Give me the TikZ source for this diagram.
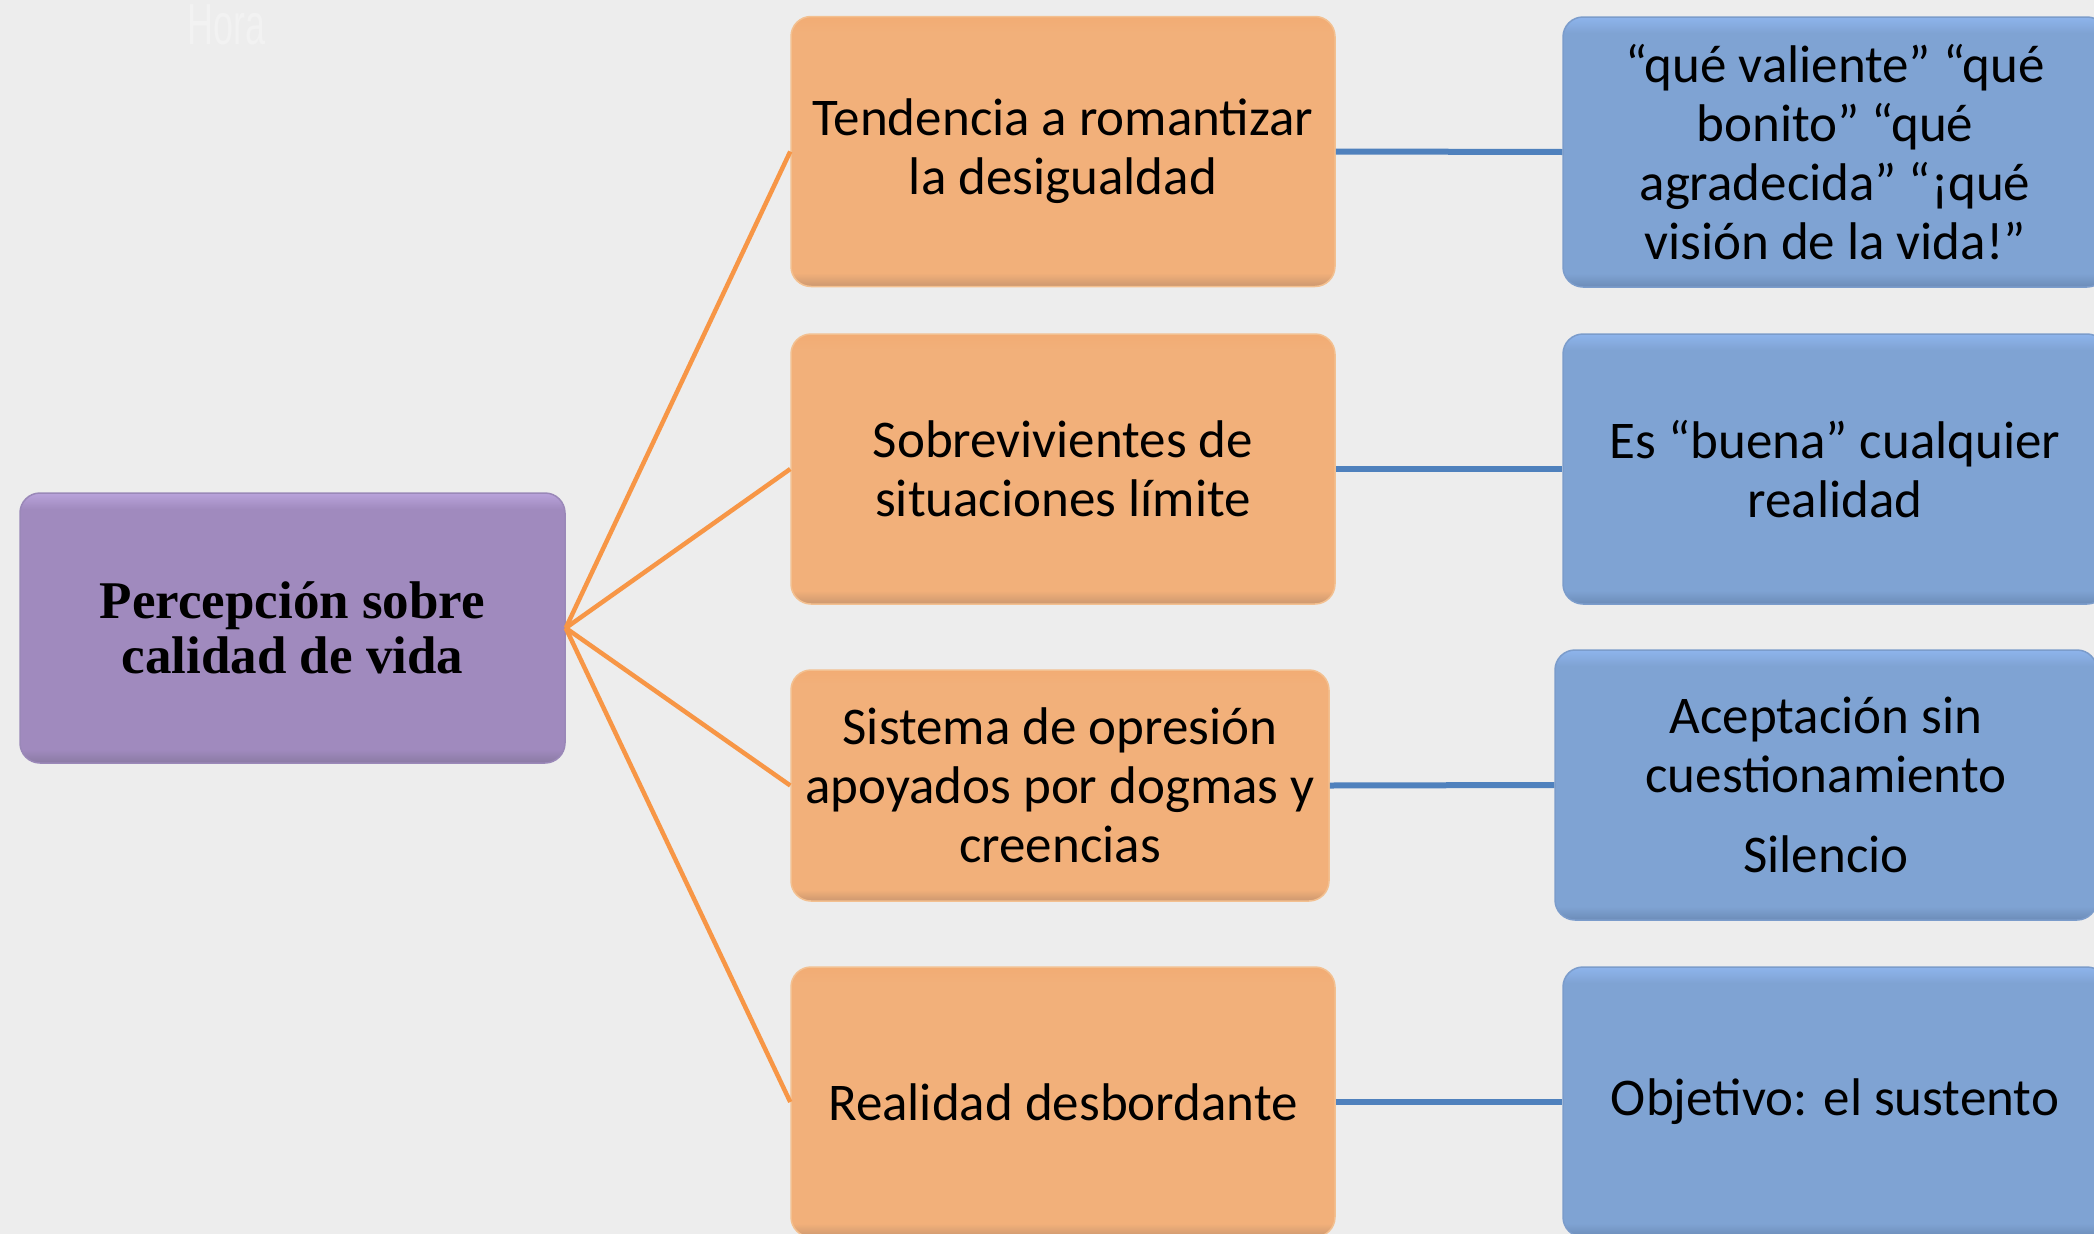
\documentclass[tikz,border=0pt]{standalone}
\usepackage{fontspec}
\setmainfont{Carlito}
\newfontfamily\titlefont{Liberation Serif}
\newfontfamily\ghostfont{Liberation Sans}
\definecolor{bgc}{HTML}{EDEDED}
\definecolor{ghostc}{HTML}{F2F2F2}
\definecolor{ptop}{HTML}{B9A3DB}
\definecolor{pmain}{HTML}{A08ABE}
\definecolor{pbot}{HTML}{8A7AA3}
\definecolor{pedge}{HTML}{9A88B8}
\definecolor{otop}{HTML}{F2AC74}
\definecolor{omain}{HTML}{F2B07A}
\definecolor{obot}{HTML}{CC9870}
\definecolor{oedge}{HTML}{F3C090}
\definecolor{btop}{HTML}{8EB4EC}
\definecolor{bmain}{HTML}{7FA3D3}
\definecolor{bbot}{HTML}{6C8CB8}
\definecolor{bedge}{HTML}{7B9CCB}
\definecolor{oline}{HTML}{F79646}
\definecolor{bline}{HTML}{4F81BD}
\pgfdeclareverticalshading{pshade}{100bp}{color(0bp)=(pbot); color(25bp)=(pbot); color(27.5bp)=(pmain); color(72bp)=(pmain); color(75bp)=(ptop); color(100bp)=(ptop)}
\pgfdeclareverticalshading{oshade}{100bp}{color(0bp)=(obot); color(25bp)=(obot); color(27.5bp)=(omain); color(72bp)=(omain); color(75bp)=(otop); color(100bp)=(otop)}
\pgfdeclareverticalshading{bshade}{100bp}{color(0bp)=(bbot); color(25bp)=(bbot); color(27.5bp)=(bmain); color(72bp)=(bmain); color(75bp)=(btop); color(100bp)=(btop)}
\tikzset{
  boxbase/.style={rectangle, rounded corners=20pt, inner sep=0pt, align=center, text=black, line width=1.5pt, font=\fontsize{53}{59}\selectfont},
  purplebox/.style={boxbase, shading=pshade, draw=pedge, minimum width=545pt, minimum height=270pt, font=\titlefont\bfseries\fontsize{53}{55}\selectfont},
  orangebox/.style={boxbase, shading=oshade, draw=oedge, minimum width=544pt, minimum height=270pt},
  bluebox/.style={boxbase, shading=bshade, draw=bedge, minimum width=544pt, minimum height=270pt},
  oconn/.style={draw=oline, line width=4.5pt},
  bconn/.style={draw=bline, line width=6pt},
}
\begin{document}
\begin{tikzpicture}[x=1pt, y=-1pt]
\useasboundingbox (0,0) rectangle (2094,1234);
\clip (0,0) rectangle (2094,1234);
\fill[bgc] (0,0) rectangle (2094,1234);
\node[text=ghostc, font=\ghostfont\fontsize{58}{58}\selectfont, xscale=0.62, anchor=north west, inner sep=0pt] (ghost) at (187,4) {Hora};

\node[purplebox] (P) at (292.5,628) {Percepción sobre\\calidad de vida};

\node[orangebox] (O1) at (1063,151.5) {Tendencia a romantizar\\la desigualdad};
\node[orangebox] (O2) at (1063,469) {Sobrevivientes de\\situaciones límite};
\node[orangebox, minimum width=538pt, minimum height=231pt] (O3) at (1060,785.5) {Sistema de opresión\\apoyados por dogmas y\\creencias};
\node[orangebox] (O4) at (1063,1102) {Realidad desbordante};

\node[bluebox] (B1) at (1835,152) {“qué valiente” “qué\\bonito” “qué\\agradecida” “¡qué\\visión de la vida!”};
\node[bluebox] (B2) at (1835,469) {Es “buena” cualquier\\realidad};
\node[bluebox, minimum width=542pt] (B3) at (1826,785) {Aceptación sin\\cuestionamiento\\[21pt]Silencio};
\node[bluebox] (B4) at (1835,1102) {Objetivo: el sustento};

\foreach \o in {O1,O2,O3,O4} \draw[oconn] (P.east) -- (\o.west);
\draw[bconn] (O1.east) -- (B1.west);
\draw[bconn] (O2.east) -- (B2.west);
\draw[bconn] (O3.east) -- (B3.west);
\draw[bconn] (O4.east) -- (B4.west);
\end{tikzpicture}
\end{document}
